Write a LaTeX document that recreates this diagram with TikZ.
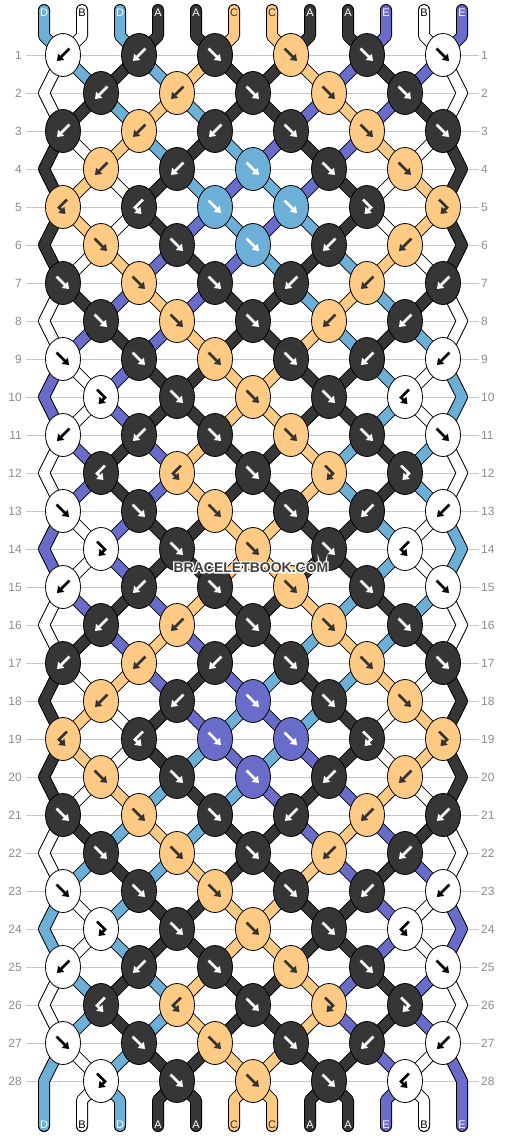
\documentclass[tikz,border=0pt]{standalone}
\usepackage{fontspec}
\setmainfont{Liberation Sans}
\usepackage{tikz}
\usetikzlibrary{arrows.meta}
\usetikzlibrary{shapes.geometric}

\definecolor{colA}{HTML}{363636}
\definecolor{colB}{HTML}{FFFFFF}
\definecolor{colC}{HTML}{FFCA84}
\definecolor{colD}{HTML}{6CB0D8}
\definecolor{colE}{HTML}{6A6CC9}
\colorlet{txtA}{white}
\colorlet{txtB}{black}
\colorlet{txtC}{black!80}
\colorlet{txtD}{white}
\colorlet{txtE}{white}

\pgfdeclarelayer{grid}
\pgfdeclarelayer{strands}
\pgfsetlayers{grid,strands,main}

\tikzset{%
  >={Triangle[length=6pt,width=8.5pt]},
  % Specifications for style of nodes:
        knot/.style = {ellipse, draw=black, line width=0.8pt, fill=col#1,
                       minimum width=35pt, minimum height=43pt, inner sep=0pt},
       glyph/.style = {->, draw=txt#1, line width=2.6pt},
      strand/.style = {draw=black, line width=1pt, double=col#1,
                       double distance=10pt, line cap=round, line join=round},
      strlbl/.style = {text=txt#1, inner sep=0pt, anchor=base,
                       font=\fontsize{11}{11}\selectfont},
        rnum/.style = {text=black!45, inner sep=0pt,
                       font=\fontsize{12}{12}\selectfont},
     rowline/.style = {draw=black!22, line width=1pt, shorten <=4pt, shorten >=2pt},
       wmark/.style = {inner sep=0pt, text=black!75,
                       font=\bfseries\fontsize{14}{14}\selectfont},
}

% knot types of each row (F, B, FB, BF)
\newcommand\knotrow[2]{\expandafter\def\csname tp#1\endcsname{#2}}
\knotrow{1}{B,B,F,F,F,F}
\knotrow{2}{B,B,F,F,F}
\knotrow{3}{B,B,B,F,F,F}
\knotrow{4}{B,B,F,F,F}
\knotrow{5}{BF,BF,F,F,FB,FB}
\knotrow{6}{F,F,F,B,B}
\knotrow{7}{F,F,F,B,B,B}
\knotrow{8}{F,F,F,B,B}
\knotrow{9}{F,F,F,F,B,B}
\knotrow{10}{FB,F,F,F,BF}
\knotrow{11}{B,B,F,F,F,F}
\knotrow{12}{BF,BF,F,FB,FB}
\knotrow{13}{F,F,F,F,B,B}
\knotrow{14}{FB,F,F,F,BF}

\def\setF{\edef\kc{\lcol}\def\kswap{1}}
\def\setB{\edef\kc{\rcol}\def\kswap{1}}
\def\setFB{\edef\kc{\lcol}\def\kswap{0}}
\def\setBF{\edef\kc{\rcol}\def\kswap{0}}

\def\glyF{(-6.5,-6.5) -- (6,6)}
\def\glyB{(6.5,-6.5) -- (-6,6)}
\def\glyFB{(-4,-7.5) -- (4,0.5) -- (-2.5,7)}
\def\glyBF{(4,-7.5) -- (-4,0.5) -- (2.5,7)}

\begin{document}
\begin{tikzpicture}[x=1pt, y=-1pt]
\useasboundingbox (0,0) rectangle (506,1136);

% strings at the top
\foreach \lt [count=\i] in {D,B,D,A,A,C,C,A,A,E,B,E}{
  \pgfmathsetmacro\xx{44+38*(\i-1)}
  \expandafter\xdef\csname s\i\endcsname{\lt}
  \expandafter\xdef\csname lp\i\endcsname{(s\i) -- (t\i)}
  \coordinate (s\i) at (\xx,10);
  \coordinate (t\i) at (\xx,36);
  \node (top\i) [strlbl=\lt] at (\xx,16.5) {\lt};
}

% rows of knots
\foreach \rw in {1,...,28}{
  \pgfmathtruncatemacro\m{mod(\rw-1,14)+1}
  \pgfmathtruncatemacro\isodd{mod(\rw,2)}
  \pgfmathsetmacro\ky{55+38*(\rw-1)}
  \node (rl\rw) [rnum, anchor=east] at (22,\ky) {\rw};
  \node (rr\rw) [rnum, anchor=west] at (481,\ky) {\rw};
  \begin{pgfonlayer}{grid}
    \draw[rowline] (rl\rw) -- (rr\rw);
  \end{pgfonlayer}
  \ifnum\isodd=0
    \coordinate (e\rw-1) at (44,\ky);
    \coordinate (e\rw-12) at (462,\ky);
    \expandafter\xdef\csname lp1\endcsname{\csname lp1\endcsname -- (e\rw-1)}
    \expandafter\xdef\csname lp12\endcsname{\csname lp12\endcsname -- (e\rw-12)}
  \fi
  \edef\types{\csname tp\m\endcsname}
  \foreach \kt [count=\k] in \types {
    \pgfmathtruncatemacro\pa{2*\k-\isodd}
    \pgfmathtruncatemacro\pb{\pa+1}
    \pgfmathsetmacro\kx{25+38*\pa}
    \edef\lcol{\csname s\pa\endcsname}
    \edef\rcol{\csname s\pb\endcsname}
    \csname set\kt\endcsname
    \node (k\rw-\k) [knot=\kc] at (\kx,\ky) {};
    \edef\tmp{\noexpand\draw[glyph=\kc, shift={(\kx,\ky)}] \csname gly\kt\endcsname;}\tmp
    \begin{pgfonlayer}{strands}
      \edef\tmp{\noexpand\draw[strand=\lcol] \csname lp\pa\endcsname -- (k\rw-\k.center);}\tmp
      \edef\tmp{\noexpand\draw[strand=\rcol] \csname lp\pb\endcsname -- (k\rw-\k.center);}\tmp
    \end{pgfonlayer}
    \ifnum\kswap=1
      \expandafter\xdef\csname s\pa\endcsname{\rcol}
      \expandafter\xdef\csname s\pb\endcsname{\lcol}
    \fi
    \expandafter\xdef\csname lp\pa\endcsname{(k\rw-\k.center)}
    \expandafter\xdef\csname lp\pb\endcsname{(k\rw-\k.center)}
  }
}

% strings at the bottom
\foreach \i in {1,...,12}{
  \pgfmathsetmacro\xx{44+38*(\i-1)}
  \edef\bcol{\csname s\i\endcsname}
  \coordinate (u\i) at (\xx,1100);
  \coordinate (v\i) at (\xx,1126);
  \ifnum\i=1
    \edef\tmp{\noexpand\draw[strand=\bcol] \csname lp\i\endcsname -- (v\i);}
  \else\ifnum\i=12
    \edef\tmp{\noexpand\draw[strand=\bcol] \csname lp\i\endcsname -- (v\i);}
  \else
    \edef\tmp{\noexpand\draw[strand=\bcol] \csname lp\i\endcsname -- (u\i) -- (v\i);}
  \fi\fi
  \begin{pgfonlayer}{strands}
    \tmp
  \end{pgfonlayer}
  \node (bot\i) [strlbl=\bcol] at (\xx,1128.5) {\bcol};
}

% watermark, white outline stroked under the text
\node (wm) [wmark] at (251,567.5)
  {\special{pdf:code 1 1 1 RG 2.6 w 1 Tr}\rlap{BRACELETBOOK.COM}%
   \special{pdf:code 0 Tr}BRACELETBOOK.COM};
\end{tikzpicture}
\end{document}
